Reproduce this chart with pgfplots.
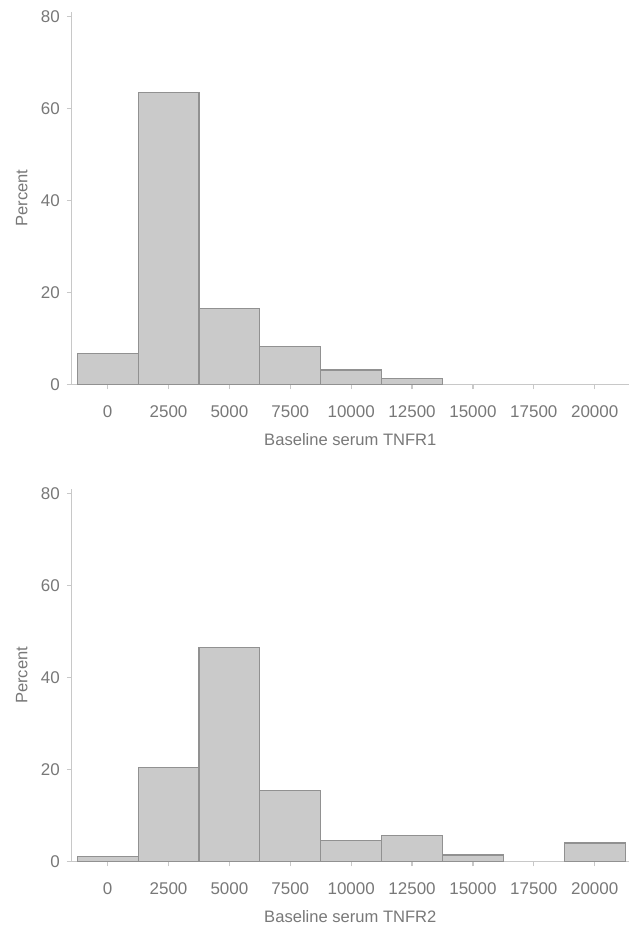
\documentclass[border=0pt]{standalone}
\usepackage{pgfplots}
\pgfplotsset{compat=1.18}
\usepackage{fontspec}
\setmainfont{Liberation Sans}

\definecolor{barfill}{RGB}{202,202,202}
\definecolor{baredge}{RGB}{145,145,145}
\definecolor{axline}{RGB}{200,200,200}
\definecolor{txt}{RGB}{120,120,120}

\pgfplotsset{
  histo/.style={
    scale only axis,
    width=279pt, height=186.5pt,
    xmin=-1470, xmax=21400,
    ymin=0, ymax=81,
    axis x line*=bottom, axis y line*=left,
    axis line style={axline, line width=0.6pt},
    x axis line style={shorten <=-2.5pt},
    every tick/.style={axline, line width=0.6pt},
    tick align=outside,
    major tick length=2.5pt,
    xtick={0,2500,...,20000},
    ytick={0,20,40,60,80},
    scaled ticks=false,
    /pgf/number format/fixed,
    /pgf/number format/1000 sep=,
    /pgf/number format/assume math mode=true,
    tick label style={font=\fontsize{8.5}{10}\selectfont, text=txt},
    label style={font=\fontsize{8.3}{10}\selectfont, text=txt},
    xticklabel style={yshift=-4.5pt},
    yticklabel style={xshift=0pt},
    ylabel={Percent},
    ylabel style={at={(axis description cs:-0.09,0.5)}, anchor=center},
    xlabel style={at={(axis description cs:0.5,0)}, anchor=center, yshift=-27.5pt},
  },
  bars/.style={ybar, bar width=2500, bar shift=0pt, fill=barfill, draw=baredge, line width=0.6pt},
}

\begin{document}
\begin{tikzpicture}
\begin{axis}[histo, at={(0,0)}, anchor=south west, xlabel={Baseline serum TNFR1}]
\addplot[bars] coordinates {
  (0,6.7) (2500,63.5) (5000,16.4) (7500,8.3) (10000,3.1) (12500,1.3)
};
\end{axis}

\begin{axis}[histo, at={(0,-239pt)}, anchor=south west, xlabel={Baseline serum TNFR2}]
\addplot[bars] coordinates {
  (0,1.1) (2500,20.5) (5000,46.6) (7500,15.4) (10000,4.5) (12500,5.6) (15000,1.4) (20000,4.0)
};
\end{axis}
\path (-36pt,-272pt) rectangle (280.5pt,192.5pt);
\end{tikzpicture}
\end{document}
